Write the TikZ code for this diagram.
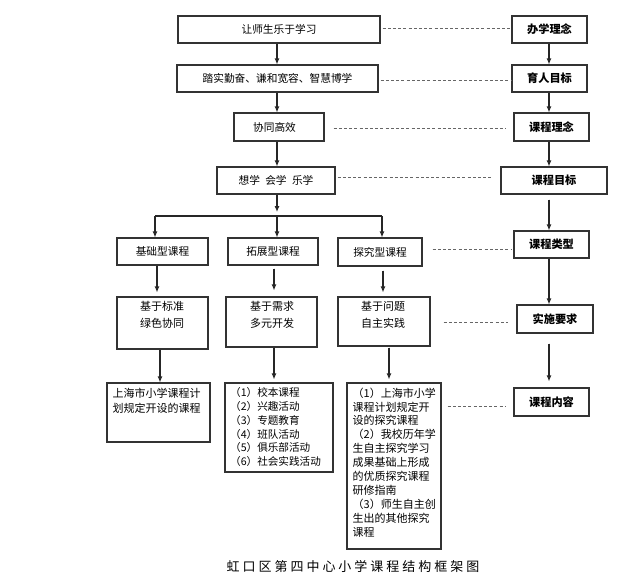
\documentclass[tikz,border=0pt]{standalone}
\usepackage{fontspec}
\setmainfont{Noto Sans CJK SC}
\newfontfamily\capfont[LetterSpace=23]{Noto Sans CJK SC}
\usetikzlibrary{arrows.meta,calc}
\begin{document}
\begin{tikzpicture}[x=1pt,y=-1pt,
  box/.style={draw=black!80, line width=1.1pt, inner sep=0pt, text height=8.4pt, text depth=0pt, font=\fontsize{10.7}{13}\selectfont},
  rbox/.style={box, text height=8.6pt, font=\fontsize{11.2}{13}\selectfont\bfseries},
  txt/.style={inner sep=0pt, align=left, font=\fontsize{11}{13.9}\selectfont},
  ctxt/.style={inner sep=0pt, align=center, font=\fontsize{11}{16.7}\selectfont},
  arr/.style={-{Latex[length=6pt,width=5pt]}, line width=1.1pt, draw=black!85, fill=black!85},
  dsh/.style={dash pattern=on 3pt off 2.2pt, line width=0.9pt, draw=black!60}]
\useasboundingbox (0,0) rectangle (621,579);
% left column
\node[box, minimum width=202pt, minimum height=27pt] (a1) at (279,29.5) {让师生乐于学习};
\node[box, minimum width=201pt, minimum height=27pt] (a2) at (277.5,78.5) {踏实勤奋、谦和宽容、智慧博学};
\node[box, minimum width=90pt, minimum height=28pt] (a3) at (279,127) {};
\node[txt, text height=8.4pt, text depth=0pt, font=\fontsize{10.7}{13}\selectfont] (a3t) at (274.5,127) {协同高效};
\node[box, minimum width=118pt, minimum height=27pt] (a4) at (276,180.5) {想学\hspace{0.5em}会学\hspace{0.5em}乐学};
% types
\node[box, minimum width=91pt, minimum height=27pt] (b1) at (162.5,251.5) {基础型课程};
\node[box, minimum width=90pt, minimum height=27pt] (b2) at (273,251.5) {拓展型课程};
\node[box, minimum width=84pt, minimum height=28pt] (b3) at (380,252) {探究型课程};
% requirements
\node[box, minimum width=91pt, minimum height=52pt] (c1) at (162.5,323) {};
\node[box, minimum width=91pt, minimum height=50pt] (c2) at (271.5,322) {};
\node[box, minimum width=92pt, minimum height=49pt] (c3) at (384,321.5) {};
\node[ctxt, anchor=north] (c1t) at (162,301) {基于标准\\绿色协同};
\node[ctxt, anchor=north] (c2t) at (272,301) {基于需求\\多元开发};
\node[ctxt, anchor=north] (c3t) at (383,301) {基于问题\\自主实践};
% contents
\node[box, minimum width=103pt, minimum height=59pt] (d1) at (158.5,412.5) {};
\node[box, minimum width=108pt, minimum height=89pt] (d2) at (279,427.5) {};
\node[box, minimum width=94pt, minimum height=166pt] (d3) at (394,466) {};
\node[txt, anchor=north west, font=\fontsize{11}{15}\selectfont] (d1t) at (112.5,387.5) {上海市小学课程计\\划规定开设的课程};
\node[txt, anchor=north west, font=\fontsize{10.6}{13.8}\selectfont] (d2t) at (230,387.5) {（1）校本课程\\（2）兴趣活动\\（3）专题教育\\（4）班队活动\\（5）俱乐部活动\\（6）社会实践活动};
\node[txt, anchor=north west] (d3t) at (352.5,387.5) {（1）上海市小学\\课程计划规定开\\设的探究课程\\（2）我校历年学\\生自主探究学习\\成果基础上形成\\的优质探究课程\\研修指南\\（3）师生自主创\\生出的其他探究\\课程};
% right column
\node[rbox, minimum width=75pt, minimum height=27pt] (r1) at (549.5,29.5) {办学理念};
\node[rbox, minimum width=75pt, minimum height=27pt] (r2) at (549.5,78.5) {育人目标};
\node[rbox, minimum width=75pt, minimum height=28pt] (r3) at (551.5,127) {课程理念};
\node[rbox, minimum width=106pt, minimum height=27pt] (r4) at (554,180.5) {课程目标};
\node[rbox, minimum width=75pt, minimum height=27pt] (r5) at (551.5,244.5) {课程类型};
\node[rbox, minimum width=76pt, minimum height=28pt] (r6) at (555,319) {实施要求};
\node[rbox, minimum width=75pt, minimum height=28pt] (r7) at (551.5,402) {课程内容};
% caption
\node[inner sep=0pt, font=\capfont\fontsize{13}{15}\selectfont] (cap) at (353,566) {虹口区第四中心小学课程结构框架图};
% left arrows
\coordinate (lx) at (277,0);
\draw[arr] (a1.south -| lx) -- (a2.north -| lx);
\draw[arr] (a2.south -| lx) -- (a3.north -| lx);
\draw[arr] (a3.south -| lx) -- (a4.north -| lx);
\coordinate (bm) at (277,216);
\coordinate (bl) at (155,216);
\coordinate (br) at (382,216);
\draw[arr, shorten >=4pt] (a4.south -| lx) -- (bm);
\draw[line width=1.1pt, draw=black!85] (bl) -- (br);
\draw[arr] (bl) -- (bl |- b1.north);
\draw[arr] (bm) -- (bm |- b2.north);
\draw[arr] (br) -- (br |- b3.north);
% types to requirements
\coordinate (x1) at (157,0);
\coordinate (x2) at (274,0);
\coordinate (x3) at (383,0);
\draw[arr, shorten >=4pt] (b1.south -| x1) -- (c1.north -| x1);
\draw[arr, shorten <=3pt, shorten >=6pt] (b2.south -| x2) -- (c2.north -| x2);
\draw[arr, shorten <=4pt, shorten >=4pt] (b3.south -| x3) -- (c3.north -| x3);
\coordinate (y1) at (160,0);
\coordinate (y2) at (274,0);
\coordinate (y3) at (389,0);
\draw[arr] (c1.south -| y1) -- (d1.north -| y1);
\draw[arr, shorten >=3pt] (c2.south -| y2) -- (d2.north -| y2);
\draw[arr, shorten <=1pt, shorten >=3pt] (c3.south -| y3) -- (d3.north -| y3);
% right arrows
\coordinate (rx) at (549,0);
\draw[arr] (r1.south -| rx) -- (r2.north -| rx);
\draw[arr] (r2.south -| rx) -- (r3.north -| rx);
\draw[arr] (r3.south -| rx) -- (r4.north -| rx);
\draw[arr, shorten <=5pt] (r4.south -| rx) -- (r5.north -| rx);
\draw[arr] (r5.south -| rx) -- (r6.north -| rx);
\draw[arr, shorten <=10pt, shorten >=6pt] (r6.south -| rx) -- (r7.north -| rx);
% dashed links
\coordinate (h1) at (0,28);
\coordinate (h2) at (0,80);
\coordinate (h3) at (0,128);
\coordinate (h4) at (0,177);
\coordinate (h5) at (0,249);
\coordinate (h6) at (0,322);
\coordinate (h7) at (0,406);
\draw[dsh, shorten <=2pt] (a1.east |- h1) -- (r1.west |- h1);
\draw[dsh, shorten <=2pt] (a2.east |- h2) -- (r2.west |- h2);
\draw[dsh, shorten <=9pt, shorten >=7pt] (a3.east |- h3) -- (r3.west |- h3);
\draw[dsh, shorten <=2pt, shorten >=9pt] (a4.east |- h4) -- (r4.west |- h4);
\draw[dsh, shorten <=10pt, shorten >=2pt] (b3.east |- h5) -- (r5.west |- h5);
\draw[dsh, shorten <=13pt, shorten >=8pt] (c3.east |- h6) -- (r6.west |- h6);
\draw[dsh, shorten <=6pt, shorten >=7pt] (d3.east |- h7) -- (r7.west |- h7);
\end{tikzpicture}
\end{document}
